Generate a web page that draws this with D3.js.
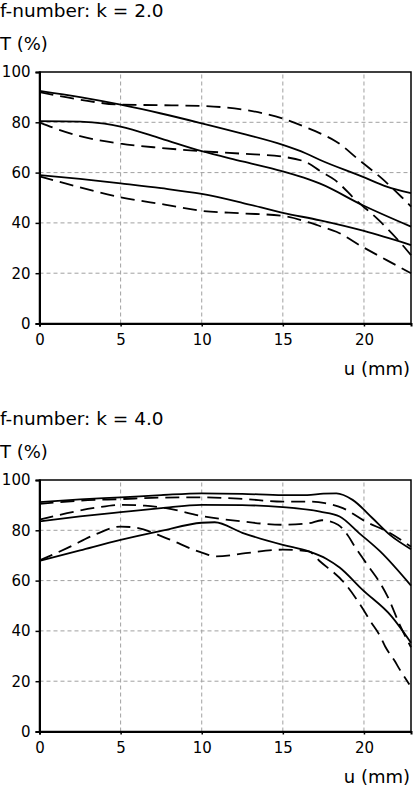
<!DOCTYPE html>
<html>
<head>
<meta charset="utf-8">
<script src="https://cdn.jsdelivr.net/npm/d3@7"></script>
<style>
  body { margin: 0; background: #fff; }
  svg { display: block; font-family: "DejaVu Sans", sans-serif; }
</style>
</head>
<body>
<svg width="413" height="787"></svg>
<script>
// axis ticks
var uTicks = [0, 5, 10, 15, 20];
var tTicks = [0, 20, 40, 60, 80, 100];
var titles = ["f-number: k = 2.0", "f-number: k = 4.0"];

// k = 2.0 curves, [u (mm), T (%)]
var k2Solid1 = [[0,92.5],[2.5,90],[5,87],[7.5,83.5],[10,79.6],[12.5,75.5],[15,71],[16.4,67.7],[17.3,65],[19.9,58.4],[21.4,54.4],[22.9,51.8]];
var k2Dash1  = [[0,92],[2.5,89],[5,87],[7.5,86.8],[10,86.5],[12.5,85.1],[15,81.5],[16.5,77.8],[17.3,75.6],[18.3,72.3],[19.7,65],[21.1,57.7],[22.3,50.4],[22.9,46.5]];
var k2Solid2 = [[0,80.5],[2.5,80.3],[4,79.5],[5,78.3],[7.5,73.5],[10,68.5],[12.5,64.5],[15,60.5],[16.6,57.3],[17.3,55.6],[19.9,47.1],[22.9,38.5]];
var k2Dash2  = [[0,80],[1,77.5],[2.5,74.5],[5,71.5],[7.5,69.8],[10,68.5],[12.5,67.5],[15,66.3],[16.6,63.6],[17.3,60.6],[18.2,57.1],[19.5,49.1],[20.9,41.2],[22.1,33.2],[22.9,27.2]];
var k2Solid3 = [[0,59],[2.5,57.5],[5,55.7],[7.5,53.8],[10,51.5],[12.5,48],[15,44],[17.3,41],[20,36.8],[22.9,31.2]];
var k2Dash3  = [[0,58.5],[1.7,55.5],[5,50.2],[7.8,47.2],[10,44.8],[12.5,43.8],[15,42.8],[16.6,40.2],[17.4,38.5],[18.3,36.5],[19.9,30.5],[21.4,25.2],[22.9,20]];

// k = 4.0 curves
var k4Solid1 = [[0,91.2],[2.5,92.3],[5,93.1],[7.5,94],[10,94.7],[12.5,94.5],[15,94],[16.5,94],[17.5,94.6],[18.3,94.7],[19.3,92.1],[20.5,85],[21.6,78.2],[22.9,72.5]];
var k4Dash1  = [[0,90.5],[2.5,91.8],[5,92.4],[7.5,93],[10,93.1],[12.5,92.5],[15,91.4],[16.6,91.4],[17.6,90.8],[18.7,88.8],[20.1,83.5],[21.6,78.9],[22.9,73.5]];
var k4Solid2 = [[0,83.5],[2.5,85.5],[5,87.2],[7.5,88.8],[10,90.1],[12.5,90],[15,89.2],[17.3,87.4],[18.5,85.5],[19.7,78.9],[21,71.6],[22.9,58]];
var k4Dash2  = [[0,84.2],[1.7,86.8],[3.5,89],[5,90.1],[6.5,89.8],[7.8,88.8],[10,85.7],[12.5,83.5],[15,82.2],[16.6,82.8],[17.4,84],[18.4,82.2],[18.9,78.9],[19.5,72.9],[20.3,65.5],[21,59],[21.5,53.1],[22.2,42.5],[22.9,33.5]];
var k4Solid3 = [[0,67.8],[2.5,72],[5,76.2],[7.5,79.8],[10,83],[10.8,83.2],[12.5,79],[15,74.2],[16.6,71.6],[17.7,68.6],[18.5,65.2],[19.9,56.4],[21.7,45.8],[22.9,35.3]];
var k4Dash3  = [[0,68],[1.7,72.9],[3.5,78.5],[5,81.5],[6,81],[7.8,76.9],[10.1,70.9],[10.9,69.6],[12.7,70.9],[15,72.3],[16.6,71.6],[17.3,67.6],[18.8,59],[19.9,49.1],[20.4,43.8],[21,37.9],[21.3,33.9],[21.9,28],[22.2,24.7],[22.8,18.7]];

var panels = [
  { title: titles[0], solid: [k2Solid1, k2Solid2, k2Solid3], dashed: [k2Dash1, k2Dash2, k2Dash3] },
  { title: titles[1], solid: [k4Solid1, k4Solid2, k4Solid3], dashed: [k4Dash1, k4Dash2, k4Dash3] }
];

var svg = d3.select("svg");
var left = 39.5, right = 411, top0 = 72, plotH = 251.5, step = 408;

var x = d3.scaleLinear().domain([0, 22.9]).range([left, right]);

panels.forEach(function(p, i) {
  var off = i * step;
  var y = d3.scaleLinear().domain([0, 100]).range([top0 + plotH + off, top0 + off]);
  var g = svg.append("g");

  g.append("text").attr("x", 0).attr("y", 17 + off)
    .attr("font-size", 18.5).text(p.title);
  g.append("text").attr("x", 0).attr("y", 50 + off)
    .attr("font-size", 18).text("T (%)");
  g.append("text").attr("x", 410).attr("y", 375 + off)
    .attr("font-size", 18).attr("text-anchor", "end").text("u (mm)");

  // grid
  g.selectAll(".hg").data(tTicks.slice(1, -1)).enter().append("line")
    .attr("x1", left).attr("x2", right)
    .attr("y1", d => y(d)).attr("y2", d => y(d))
    .attr("stroke", "#a0a0a0").attr("stroke-width", 1).attr("stroke-dasharray", "4,3");
  g.selectAll(".vg").data(uTicks.slice(1)).enter().append("line")
    .attr("x1", d => x(d)).attr("x2", d => x(d))
    .attr("y1", y(0)).attr("y2", y(100))
    .attr("stroke", "#a0a0a0").attr("stroke-width", 1).attr("stroke-dasharray", "4,3");

  // frame
  g.append("rect").attr("x", left).attr("y", y(100))
    .attr("width", right - left).attr("height", y(0) - y(100))
    .attr("fill", "none").attr("stroke", "#000").attr("stroke-width", 1.5);

  var yAxis = d3.axisLeft(y).tickValues(tTicks).tickSize(4).tickPadding(5);
  var gy = g.append("g").attr("transform", "translate(" + left + ",0)").call(yAxis);
  var xAxis = d3.axisBottom(x).tickValues(uTicks).tickSize(3).tickPadding(8);
  var gx = g.append("g").attr("transform", "translate(0," + y(0) + ")").call(xAxis);
  [gy, gx].forEach(function(a) {
    a.select(".domain").attr("stroke", "#000").attr("stroke-width", 2);
    a.selectAll(".tick line").attr("stroke", "#000").attr("stroke-width", 1.5);
    a.selectAll("text").attr("font-size", 15).attr("fill", "#000")
      .attr("font-family", "'DejaVu Sans', sans-serif");
  });

  var line = d3.line().x(d => x(d[0])).y(d => y(d[1])).curve(d3.curveMonotoneX);
  g.selectAll(".sl").data(p.solid).enter().append("path")
    .attr("d", line).attr("fill", "none").attr("stroke", "#000").attr("stroke-width", 1.8);
  g.selectAll(".dl").data(p.dashed).enter().append("path")
    .attr("d", line).attr("fill", "none").attr("stroke", "#000").attr("stroke-width", 1.8)
    .attr("stroke-dasharray", "14,7");
});
</script>
</body>
</html>
